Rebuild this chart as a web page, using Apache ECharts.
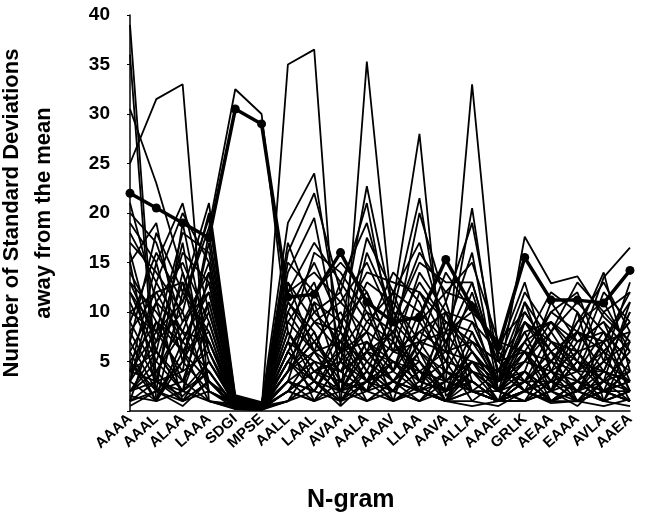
<!DOCTYPE html>
<html>
<head>
<meta charset="utf-8">
<script src="https://cdn.jsdelivr.net/npm/echarts@6/dist/echarts.min.js"></script>
<style>
  html, body { margin: 0; padding: 0; background: #fff; }
  #chart { width: 647px; height: 519px; }
</style>
</head>
<body>
<div id="chart"></div>
<script>
var categories = ["AAAA", "AAAL", "ALAA", "LAAA", "SDGI", "MPSE", "AALL", "LAAL", "AVAA", "AALA",
  "AAAV", "LLAA", "AAVA", "ALLA", "AAAE", "GRLK", "AEAA", "EAAA", "AVLA", "AAEA"];
var yTicks = [0, 5, 10, 15, 20, 25, 30, 35, 40];

// the highlighted n-gram profile (thick line with dots)
var boldLine = [22, 20.5, 19, 17.5, 30.5, 29, 11.5, 11.8, 16, 11, 9, 9.5, 15.3, 10.5, 6.5, 15.5, 11.2, 11.2, 10.9, 14.2];

// lines with the big spikes
var tallLines = [
  [39, 3, 1.5, 4, 0.5, 0.3, 2, 1, 3, 2, 1, 2.5, 1, 0.5, 1, 2, 0.8, 1, 0.5, 1.2],
  [36, 1, 6, 3, 1, 0.4, 5, 3, 1, 4, 2, 1, 3, 2, 1, 1, 2, 0.5, 3, 2],
  [25, 31.5, 33, 1, 0.5, 0.2, 3, 2, 6, 1, 3, 2, 1, 4, 2, 3, 1, 2, 1, 0.5],
  [30.5, 23, 14, 6, 1, 0.5, 4, 6, 2, 3, 5, 2, 1, 3, 1, 2, 4, 1, 2, 3],
  [12, 8, 11, 18.5, 32.5, 30, 8, 4, 2, 6, 3, 1, 4, 2, 1, 3, 1, 2, 4, 2],
  [5, 2, 3, 1, 0.3, 0.2, 35, 36.5, 0.5, 3, 2, 4, 1, 2, 1, 3, 1, 2, 1, 2],
  [2, 4, 1, 3, 0.5, 0.3, 6, 3, 0.5, 35.3, 9, 3, 2, 5, 1, 2, 1, 3, 2, 1],
  [3, 1, 5, 2, 0.6, 0.3, 4, 7, 3, 2, 11, 28, 1.5, 4, 2, 1, 3, 1, 2, 3],
  [1, 2, 0.5, 3, 0.2, 0.4, 2, 1, 5, 3, 4, 2, 3, 33, 5.5, 2, 1, 3, 1, 2],
  [4, 6, 2, 5, 1, 0.5, 3, 5, 4, 6, 3, 5, 2, 4, 3, 17.6, 12.9, 13.6, 9.5, 7],
  [2, 3, 1, 2, 0.3, 0.2, 1, 3, 2, 1, 3, 2, 1, 2, 1, 4, 2, 6, 13.5, 16.5]
];

// mid-height zigzag lines
var midLines = [
  [14, 9, 7, 12, 1.2, 0.6, 19, 24, 8, 22.7, 10, 21.5, 6, 20.5, 3, 9, 6, 4, 8, 5],
  [9, 16, 11, 19.5, 0.8, 0.4, 16, 22, 12, 21, 7, 20, 11, 19, 5, 6, 3, 8, 4, 10],
  [18, 13, 20, 15, 1.5, 0.7, 14, 19.5, 6, 17.5, 12, 17, 8, 16, 2, 11, 7, 5, 12, 9],
  [6, 11, 15, 9, 1, 0.5, 12, 17, 13, 19, 9, 15, 13, 13, 4, 8, 9, 6, 7, 11],
  [20, 17, 9, 14, 0.9, 0.3, 10, 15, 9, 14, 13, 12, 7, 11, 6, 13, 4, 9, 13, 8],
  [11, 5, 13, 7, 1.3, 0.6, 15, 12, 15, 12, 6, 14, 10, 9, 3, 5, 10, 12, 5, 13],
  [15, 19, 6, 11, 0.7, 0.2, 9, 13, 5, 16, 10, 9, 12, 15, 7, 10, 6, 8, 14, 4],
  [4, 8, 18, 16, 1.1, 0.5, 13, 9, 11, 8, 14, 11, 5, 12, 4, 7, 12, 10, 6, 9],
  [17, 14, 10, 20, 1.4, 0.8, 7, 16, 14, 10, 8, 13, 9, 7, 5, 12, 8, 13, 10, 12],
  [8, 3, 14, 5, 0.6, 0.3, 17, 10, 7, 13, 11, 7, 14, 10, 2, 4, 11, 7, 9, 3],
  [19, 15, 21, 10, 1.1, 0.5, 6, 11, 9, 12, 6, 8, 10, 6, 3, 6, 5, 8, 6, 9],
  [7, 18, 12, 21, 1.6, 0.9, 12, 14, 11, 15, 9, 16, 12, 11, 5, 9, 7, 4, 10, 7],
  [13, 7, 16, 13, 0.7, 0.3, 9, 6, 13, 9, 12, 10, 7, 13, 4, 11, 4, 6, 3, 11],
  [21, 11, 8, 7, 0.8, 0.4, 5, 9, 6, 8, 6, 7, 8, 10, 7, 6, 10, 8, 7, 8]
];

// the dense mass near the floor
var lowLines = [
  [5, 9, 3, 7, 0.5, 0.2, 4, 8, 2, 6, 5, 3, 7, 2, 1, 4, 2, 5, 3, 6],
  [2, 4, 8, 3, 0.4, 0.1, 6, 3, 9, 4, 2, 7, 3, 6, 2, 1, 5, 2, 7, 2],
  [7, 2, 5, 10, 0.8, 0.3, 2, 6, 4, 9, 7, 4, 2, 8, 3, 6, 1, 3, 2, 8],
  [12, 6, 2, 4, 0.3, 0.2, 8, 4, 6, 3, 9, 6, 4, 3, 1, 3, 6, 1, 4, 3],
  [3, 7, 10, 2, 0.6, 0.4, 3, 11, 3, 7, 4, 8, 6, 5, 4, 2, 3, 4, 1, 5],
  [1, 3, 4, 6, 0.2, 0.1, 5, 2, 7, 5, 3, 2, 8, 4, 2, 5, 4, 2, 6, 1],
  [10, 12, 7, 13, 0.9, 0.5, 1, 5, 1, 2, 6, 5, 1, 7, 5, 2, 7, 6, 2, 4],
  [6, 1, 12, 8, 0.5, 0.3, 7, 1, 5, 8, 1, 9, 5, 1, 3, 8, 2, 3, 5, 7],
  [0.5, 2, 1, 3, 0.3, 0.2, 2, 4, 3, 1, 2, 1, 2, 3, 1, 1, 2, 1, 3, 1],
  [13, 10, 6, 1, 0.7, 0.4, 4, 7, 10, 5, 8, 3, 9, 6, 2, 7, 3, 7, 8, 2],
  [2, 5, 2, 9, 0.4, 0.2, 10, 6, 2, 11, 4, 10, 4, 9, 6, 3, 8, 4, 4, 10],
  [9, 4, 9, 12, 1, 0.5, 5, 9, 8, 4, 10, 6, 11, 3, 1, 9, 5, 9, 11, 6],
  [4, 15, 5, 17, 1.2, 0.6, 3, 2, 6, 7, 5, 4, 3, 5, 2, 4, 1, 2, 3, 4],
  [16, 6, 17, 2, 0.8, 0.3, 11, 7, 4, 2, 3, 7, 6, 2, 4, 5, 9, 5, 2, 1],
  [1.5, 1, 2, 1, 0.2, 0.1, 1, 2, 1, 3, 1, 2, 1, 1, 0.5, 2, 1, 1, 2, 1],
  [3, 11, 1, 5, 0.6, 0.3, 6, 10, 12, 6, 12, 5, 2, 6, 3, 10, 6, 3, 7, 12],
  [3, 13, 8, 15, 0.9, 0.4, 4, 12, 6, 10, 4, 12, 9, 8, 2, 5, 8, 11, 8, 5],
  [15, 2, 19, 6, 0.5, 0.2, 8, 3, 8, 3, 7, 3, 5, 4, 1, 3, 3, 2, 5, 3],
  [10, 8, 4, 18, 1.3, 0.6, 11, 8, 2, 7, 3, 6, 1, 5, 3, 7, 9, 7, 9, 6],
  [8, 12, 13, 3, 0.4, 0.2, 2, 4, 5, 2, 5, 2, 4, 2, 1, 2, 4, 3, 1, 2],
  [2, 6, 3, 11, 0.6, 0.3, 7, 5, 4, 6, 8, 4, 6, 7, 3, 4, 2, 5, 4, 3],
  [5, 1, 7, 4, 0.3, 0.1, 3, 1, 2, 4, 1, 3, 2, 3, 1, 1, 3, 1, 2, 2],
  [1, 9, 6, 8, 0.5, 0.3, 1, 3, 1, 5, 2, 6, 3, 5, 4, 3, 5, 4, 6, 4],
  [4, 3, 2, 14, 1, 0.5, 13, 6, 7, 3, 7, 2, 10, 2, 2, 6, 2, 10, 1, 7]
];

var myChart = echarts.init(document.getElementById("chart"));

var thinLine = function (values) {
  return {
    type: "line",
    data: values,
    symbol: "none",
    silent: true,
    lineStyle: { color: "#000", width: 1.8 }
  };
};

var series = [];
lowLines.concat(midLines, tallLines).forEach(function (v) {
  series.push(thinLine(v));
});
series.push({
  type: "line",
  data: boldLine,
  symbol: "circle",
  symbolSize: 9,
  z: 5,
  lineStyle: { color: "#000", width: 3.5 },
  itemStyle: { color: "#000" }
});

var option = {
  animation: false,
  backgroundColor: "#fff",
  grid: { left: 130, right: 17, top: 15, bottom: 108, outerBoundsMode: "none" },
  xAxis: {
    type: "category",
    data: categories,
    boundaryGap: false,
    axisLine: { lineStyle: { color: "#000", width: 1.5 } },
    axisTick: { show: false },
    axisLabel: {
      interval: 0,
      rotate: 42,
      margin: 6,
      color: "#000",
      fontFamily: "Liberation Sans",
      fontWeight: "bold",
      fontSize: 15
    }
  },
  yAxis: {
    type: "value",
    min: yTicks[0],
    max: yTicks[yTicks.length - 1],
    interval: 5,
    splitLine: { show: false },
    axisLine: { show: true, lineStyle: { color: "#000", width: 1.5 } },
    axisTick: { show: true, length: 3, lineStyle: { color: "#000" } },
    axisLabel: {
      margin: 20,
      color: "#000",
      fontFamily: "Liberation Sans",
      fontWeight: "bold",
      fontSize: 19,
      formatter: function (v) { return v === 0 ? "" : String(v); }
    },
    name: "Number of Standard Deviations\naway from the mean",
    nameLocation: "middle",
    nameGap: 70,
    nameTextStyle: {
      color: "#000",
      fontFamily: "Liberation Sans",
      fontWeight: "bold",
      fontSize: 22,
      lineHeight: 32
    }
  },
  graphic: [{
    type: "text",
    left: 307,
    top: 488,
    style: {
      text: "N-gram",
      fill: "#000",
      font: "bold 25px 'Liberation Sans'"
    }
  }],
  series: series
};

myChart.setOption(option);
</script>
</body>
</html>
